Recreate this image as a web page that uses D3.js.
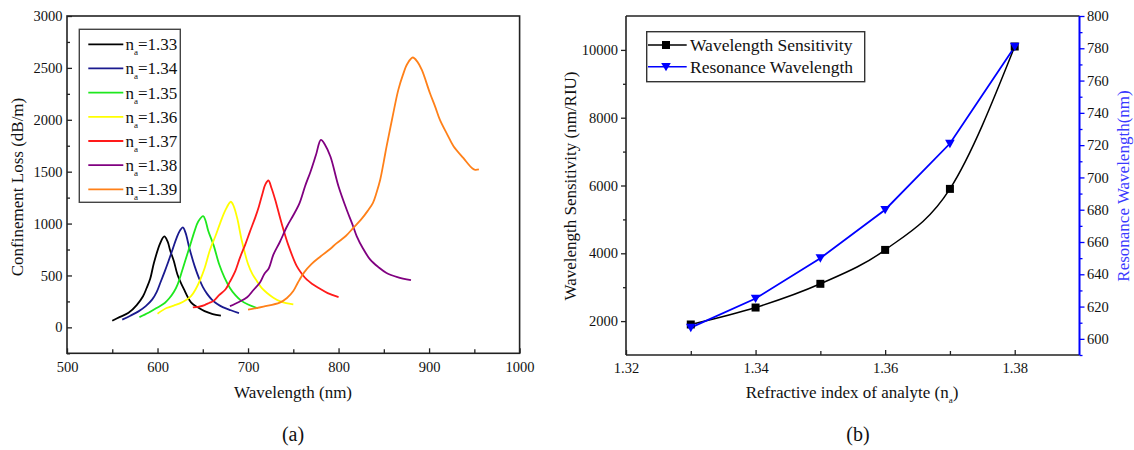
<!DOCTYPE html>
<html>
<head>
<meta charset="utf-8">
<script src="https://cdn.jsdelivr.net/npm/d3@7"></script>
<style>
  body { margin: 0; background: #fff; }
  svg { display: block; }
  text { font-family: "Liberation Serif", "Times New Roman", serif; fill: #111; }
</style>
</head>
<body>
<svg id="chart" width="1134" height="450"></svg>
<script>
// ---------- Panel (a): confinement loss spectra ----------
const indexLabels = ["1.33", "1.34", "1.35", "1.36", "1.37", "1.38", "1.39"];

// [wavelength (nm), confinement loss (dB/m)]
const loss133 = [[550,64],[558,98],[568,140],[577,215],[584,300],[588,379],[592,470],[596,620],[603,812],[607.5,876],[611,830],[614,740],[618,640],[622,510],[629,370],[637,240],[644,195],[652,156],[661,128],[670,113]];
const loss134 = [[561,74],[570,112],[579,154],[587,205],[594,267],[599,340],[603,427],[608,540],[612,635],[617,760],[621,860],[625,935],[628,963],[631,910],[635,770],[641,590],[646,470],[650,390],[655,320],[660,268],[666,225],[672,195],[681,165],[690,138]];
const loss135 = [[580,98],[590,140],[599,186],[608,235],[613,280],[618,340],[622,410],[627,540],[632,680],[636,790],[641,930],[645,1020],[650.5,1072],[653,1030],[656,930],[662,790],[668,610],[674,480],[680,380],[686,310],[692,260],[700,220],[711,184]];
const loss136 = [[600,132],[610,186],[618,210],[624,228],[632,265],[637,300],[642,365],[647,455],[652,570],[658,748],[664,880],[669,1000],[675,1130],[681,1210],[684,1170],[688,1053],[693,840],[700,610],[705,510],[710,443],[715,380],[721,331],[728,285],[735,252],[742,234],[750,222]];
const loss137 = [[639,192],[646,200],[652,215],[657,235],[662,255],[668,310],[675,365],[680,440],[686,545],[691,670],[697,800],[702,920],[708,1060],[712,1165],[716,1290],[719,1375],[722.5,1415],[726,1340],[730,1229],[737,1005],[745,780],[754,587],[760,510],[765,459],[771,418],[778,379],[788,330],[800,292]];
const loss138 = [[680,205],[690,245],[699,290],[706,360],[713,430],[718,515],[723,570],[728,700],[735,820],[743,972],[750,1080],[757,1200],[763,1360],[769,1500],[775,1660],[780.5,1807],[785,1760],[791,1646],[800,1357],[809,1133],[815,1000],[820,880],[827,760],[835,652],[844,580],[853,524],[865,485],[880,455]];
const loss139 = [[700,170],[717,200],[735,238],[743,283],[750,350],[755,430],[762,530],[770,610],[780,683],[790,750],[798,812],[808,880],[816,956],[825,1040],[832,1120],[838,1200],[842,1300],[846,1422],[850,1600],[853,1742],[859,2000],[866,2288],[871,2430],[876,2540],[882,2600],[887,2560],[892,2480],[901,2256],[907,2120],[912,1999],[920,1860],[927,1745],[938,1630],[948,1530],[951,1518],[955,1522]];

const lossSeries = [loss133, loss134, loss135, loss136, loss137, loss138, loss139];
const lossColors = ["#000000", "#1a1a8f", "#1ee81e", "#ffff00", "#ff1a1a", "#800080", "#ff8019"];

const wlTicks = [500, 600, 700, 800, 900, 1000];
const wlMinorTicks = [550, 650, 750, 850, 950];
const lossTicks = [0, 500, 1000, 1500, 2000, 2500, 3000];
const lossMinorTicks = [-250, 250, 750, 1250, 1750, 2250, 2750];

// ---------- Panel (b): sensitivity and resonance wavelength ----------
const analyteIndex = [1.33, 1.34, 1.35, 1.36, 1.37, 1.38];
const sensitivity = [1900, 2400, 3100, 4100, 5900, 10100];
const resonanceWl = [607, 625, 650, 680, 721, 781];

const riTicks = [1.32, 1.34, 1.36, 1.38];
const riMinorTicks = [1.33, 1.35, 1.37];
const sensTicks = [2000, 4000, 6000, 8000, 10000];
const sensMinorTicks = [3000, 5000, 7000, 9000];
const resTicks = [600, 620, 640, 660, 680, 700, 720, 740, 760, 780, 800];
const resMinorTicks = [590, 610, 630, 650, 670, 690, 710, 730, 750, 770, 790];

const legendB = ["Wavelength Sensitivity", "Resonance Wavelength"];

const svg = d3.select("#chart");
svg.append("rect").attr("width", 1134).attr("height", 450).attr("fill", "#fff");

const AXIS = "#222";
const BLUE = "#0000ff";
const BLUE_TEXT = "#3a3aff";
const TICK_FONT = 14.5;

function styleAxis(g, color) {
  g.select(".domain").remove();
  g.selectAll(".tick line").attr("stroke", color).attr("stroke-width", 1.3);
  g.selectAll(".tick text")
    .attr("font-family", '"Liberation Serif", "Times New Roman", serif')
    .attr("font-size", TICK_FONT)
    .attr("fill", color === AXIS ? "#111" : color);
}

// ================= Panel (a) =================
const xA = d3.scaleLinear().domain([500, 1000]).range([67, 519.6]);
const yA = d3.scaleLinear().domain([-250, 3000]).range([353.3, 16]);
const gA = svg.append("g");

gA.append("g").attr("transform", `translate(0,${yA.range()[0]})`)
  .call(d3.axisBottom(xA).tickValues(wlMinorTicks).tickSize(-4).tickFormat(""))
  .call(g => styleAxis(g, AXIS));
gA.append("g").attr("transform", `translate(0,${yA.range()[0]})`)
  .call(d3.axisBottom(xA).tickValues(wlTicks).tickSize(-5).tickPadding(8).tickFormat(d3.format("d")))
  .call(g => styleAxis(g, AXIS));
gA.append("g").attr("transform", `translate(${xA.range()[0]},0)`)
  .call(d3.axisLeft(yA).tickValues(lossMinorTicks).tickSize(-3).tickFormat(""))
  .call(g => styleAxis(g, AXIS));
gA.append("g").attr("transform", `translate(${xA.range()[0]},0)`)
  .call(d3.axisLeft(yA).tickValues(lossTicks).tickSize(-5).tickPadding(4.5).tickFormat(d3.format("d")))
  .call(g => styleAxis(g, AXIS));

gA.append("rect")
  .attr("x", xA.range()[0]).attr("y", yA.range()[1])
  .attr("width", xA.range()[1] - xA.range()[0])
  .attr("height", yA.range()[0] - yA.range()[1])
  .attr("fill", "none").attr("stroke", AXIS).attr("stroke-width", 1.6);

const lineA = d3.line().x(d => xA(d[0])).y(d => yA(d[1])).curve(d3.curveCatmullRom.alpha(0.5));
lossSeries.forEach((s, i) => {
  gA.append("path").datum(s)
    .attr("d", lineA)
    .attr("fill", "none")
    .attr("stroke", lossColors[i])
    .attr("stroke-width", 1.8)
    .attr("stroke-linejoin", "round");
});

// legend (a)
const legA = gA.append("g");
legA.append("rect").attr("x", 79.3).attr("y", 29.3).attr("width", 101).attr("height", 173)
  .attr("fill", "#fff").attr("stroke", "#444").attr("stroke-width", 1.4);
indexLabels.forEach((lab, i) => {
  const cy = 44.3 + i * 24.17;
  legA.append("line").attr("x1", 88.3).attr("x2", 123.3).attr("y1", cy).attr("y2", cy)
    .attr("stroke", lossColors[i]).attr("stroke-width", 1.8);
  const t = legA.append("text").attr("x", 125.5).attr("y", cy + 6).attr("font-size", 17);
  t.append("tspan").text("n");
  t.append("tspan").attr("font-size", 9).attr("dy", 5).text("a");
  t.append("tspan").attr("dy", -5).text("=" + lab);
});

// titles (a)
svg.append("text").attr("transform", "translate(22.5,187) rotate(-90)")
  .attr("text-anchor", "middle").attr("font-size", 17).text("Confinement Loss (dB/m)");
svg.append("text").attr("x", 293).attr("y", 398)
  .attr("text-anchor", "middle").attr("font-size", 17).text("Wavelength (nm)");
svg.append("text").attr("x", 293).attr("y", 441)
  .attr("text-anchor", "middle").attr("font-size", 20).text("(a)");

// ================= Panel (b) =================
const xB = d3.scaleLinear().domain([1.32, 1.39]).range([626, 1079.5]);
const yBL = d3.scaleLinear().domain([1000, 11000]).range([355, 16]);
const yBR = d3.scaleLinear().domain([590, 800]).range([355, 16]);
const gB = svg.append("g");

gB.append("g").attr("transform", `translate(0,${yBL.range()[0]})`)
  .call(d3.axisBottom(xB).tickValues(riMinorTicks).tickSize(-4).tickFormat(""))
  .call(g => styleAxis(g, AXIS));
gB.append("g").attr("transform", `translate(0,${yBL.range()[0]})`)
  .call(d3.axisBottom(xB).tickValues(riTicks).tickSize(-5).tickPadding(8).tickFormat(d3.format(".2f")))
  .call(g => styleAxis(g, AXIS));
gB.append("g").attr("transform", `translate(${xB.range()[0]},0)`)
  .call(d3.axisLeft(yBL).tickValues(sensMinorTicks).tickSize(3).tickFormat(""))
  .call(g => styleAxis(g, AXIS));
gB.append("g").attr("transform", `translate(${xB.range()[0]},0)`)
  .call(d3.axisLeft(yBL).tickValues(sensTicks).tickSize(5).tickPadding(3).tickFormat(d3.format("d")))
  .call(g => styleAxis(g, AXIS));
gB.append("g").attr("transform", `translate(${xB.range()[1]},0)`)
  .call(d3.axisRight(yBR).tickValues(resMinorTicks).tickSize(3).tickFormat(""))
  .call(g => styleAxis(g, BLUE));
gB.append("g").attr("transform", `translate(${xB.range()[1]},0)`)
  .call(d3.axisRight(yBR).tickValues(resTicks).tickSize(5).tickPadding(2.5).tickFormat(d3.format("d")))
  .call(g => styleAxis(g, BLUE))
  .call(g => g.selectAll(".tick text").attr("fill", BLUE_TEXT));

// frame (b)
const [bx0, bx1] = xB.range();
const [by0, by1] = yBL.range();
gB.append("line").attr("x1", bx0).attr("x2", bx1).attr("y1", by1).attr("y2", by1).attr("stroke", AXIS).attr("stroke-width", 1.6);
gB.append("line").attr("x1", bx0).attr("x2", bx1).attr("y1", by0).attr("y2", by0).attr("stroke", AXIS).attr("stroke-width", 1.6);
gB.append("line").attr("x1", bx0).attr("x2", bx0).attr("y1", by1).attr("y2", by0).attr("stroke", AXIS).attr("stroke-width", 1.6);
gB.append("line").attr("x1", bx1).attr("x2", bx1).attr("y1", by1).attr("y2", by0).attr("stroke", BLUE).attr("stroke-width", 2);

const sensPts = analyteIndex.map((n, i) => [n, sensitivity[i]]);
const resPts = analyteIndex.map((n, i) => [n, resonanceWl[i]]);

gB.append("path").datum(sensPts)
  .attr("d", d3.line().x(d => xB(d[0])).y(d => yBL(d[1])).curve(d3.curveMonotoneX))
  .attr("fill", "none").attr("stroke", "#000").attr("stroke-width", 1.5);
gB.append("path").datum(resPts)
  .attr("d", d3.line().x(d => xB(d[0])).y(d => yBR(d[1])))
  .attr("fill", "none").attr("stroke", BLUE).attr("stroke-width", 1.8);

const squarePath = "M-4,-4H4V4H-4Z";
const triPath = "M-4.8,-3.8H4.8L0,4.6Z";

gB.selectAll(".sq").data(sensPts).join("path")
  .attr("transform", d => `translate(${xB(d[0])},${yBL(d[1])})`)
  .attr("d", squarePath).attr("fill", "#000");
gB.selectAll(".tri").data(resPts).join("path")
  .attr("transform", d => `translate(${xB(d[0])},${yBR(d[1])})`)
  .attr("d", triPath).attr("fill", BLUE);

// legend (b)
const legB = gB.append("g");
legB.append("rect").attr("x", 646.7).attr("y", 31.7).attr("width", 218).attr("height", 50)
  .attr("fill", "#fff").attr("stroke", "#333").attr("stroke-width", 1.4);
[["#000", squarePath], [BLUE, triPath]].forEach(([c, p], i) => {
  const cy = 45 + i * 21.7;
  legB.append("line").attr("x1", 648).attr("x2", 686.7).attr("y1", cy).attr("y2", cy)
    .attr("stroke", c).attr("stroke-width", 1.6);
  legB.append("path").attr("d", p).attr("fill", c).attr("transform", `translate(666,${cy})`);
  legB.append("text").attr("x", 690).attr("y", cy + 6).attr("font-size", 17.5).text(legendB[i]);
});

// titles (b)
svg.append("text").attr("transform", "translate(576,186) rotate(-90)")
  .attr("text-anchor", "middle").attr("font-size", 17).text("Wavelength Sensitivity (nm/RIU)");
svg.append("text").attr("transform", "translate(1129,186) rotate(-90)")
  .attr("text-anchor", "middle").attr("font-size", 17).style("fill", BLUE_TEXT)
  .text("Resonance Wavelength(nm)");
const xtB = svg.append("text").attr("x", 852).attr("y", 398)
  .attr("text-anchor", "middle").attr("font-size", 17);
xtB.append("tspan").text("Refractive index of analyte (n");
xtB.append("tspan").attr("font-size", 9).attr("dy", 5).text("a");
xtB.append("tspan").attr("dy", -5).text(")");
svg.append("text").attr("x", 858).attr("y", 441)
  .attr("text-anchor", "middle").attr("font-size", 20).text("(b)");
</script>
</body>
</html>
